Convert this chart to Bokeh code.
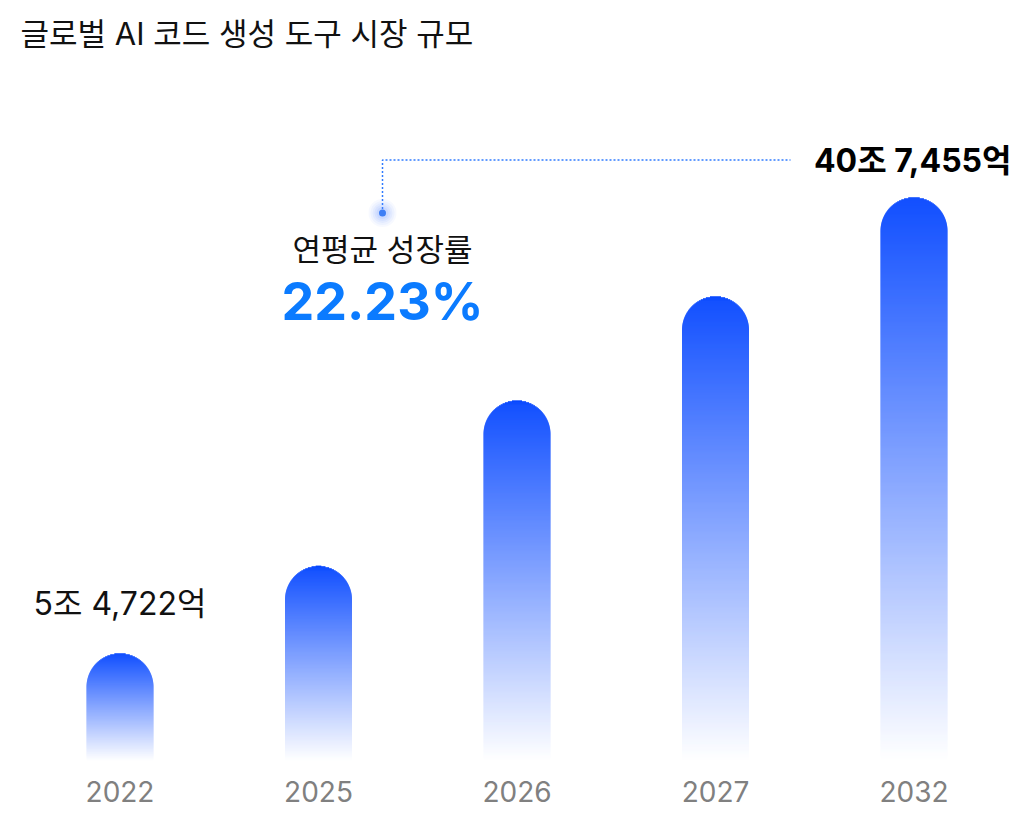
import math
from bokeh.plotting import figure
from bokeh.models import Range1d, ColumnDataSource, Label
from bokeh.core.properties import value
from bokeh.embed import file_html
from bokeh.resources import INLINE

# ---------------- data ----------------
title = "글로벌 AI 코드 생성 도구 시장 규모"
years = ["2022", "2025", "2026", "2027", "2032"]
# relative bar height (2032 = 100); chart is illustrative
bar_index = [19.0, 34.5, 63.9, 82.4, 100.0]
first_label = "5조 4,722억"
last_label = "40조 7,455억"
cagr_label = "연평균 성장률"
cagr_value = "22.23%"

# ---------------- layout ----------------
W, H = 1018, 810
BASE = 760            # baseline, px from top of the figure
PXY = 5.63            # px per index unit
X_PX = 198.5          # px per category step
X0 = -119.5 / X_PX    # left edge of x range (category index units)
BAR_W = 67
R = BAR_W / 2
FONT = "Inter, 'Noto Sans CJK KR', sans-serif"
TOP = (2, 68, 255)


def gy(py):
    """figure pixel y (from top) -> data y"""
    return (BASE - py) / PXY


def gx(px):
    return X0 + px / X_PX


p = figure(width=W, height=H, output_backend="svg", toolbar_location=None,
           x_range=Range1d(X0, X0 + W / X_PX),
           y_range=Range1d(-(H - BASE) / PXY, BASE / PXY),
           x_axis_location=None, y_axis_location=None,
           min_border=0, outline_line_color=None,
           background_fill_color="white", border_fill_color="white")
p.grid.visible = False

# gradient bars with rounded tops, built from thin slices
xs, ys, ws, cs = [], [], [], []
for i, v in enumerate(bar_index):
    hp = v * PXY
    n = int(math.ceil(hp))
    for k in range(n):
        t0, t1 = k, min(k + 1, hp)
        t = (t0 + t1) / 2
        f = t / hp
        if t > hp - R:
            dy = t - (hp - R)
            w = 2 * math.sqrt(max(R * R - dy * dy, 0.0))
        else:
            w = BAR_W
        col = "#%02x%02x%02x" % tuple(int(round(255 + (c - 255) * f)) for c in TOP)
        xs.append(i)
        ys.append(t / PXY)
        ws.append(w)
        cs.append(col)
p.rect(x="x", y="y", width="w", height=1.6, width_units="screen", height_units="screen",
       fill_color="c", line_color=None, source=ColumnDataSource(dict(x=xs, y=ys, w=ws, c=cs)))

# year labels
p.text(x=list(range(len(years))), y=[gy(791)] * len(years), text=years,
       text_align="center", text_baseline="middle", text_color="#808080",
       text_font=value(FONT), text_font_size="28px")

# value labels
p.text(x=[0], y=[bar_index[0] + 50 / PXY], text=[first_label],
       text_align="center", text_baseline="middle", text_color="#111111",
       text_font=value(FONT), text_font_size="32px")
last_y = bar_index[-1] + 37 / PXY
p.text(x=[gx(1011)], y=[last_y], text=[last_label],
       text_align="right", text_baseline="middle", text_color="#000000",
       text_font=value(FONT), text_font_size="32px", text_font_style="bold")

# connector
xc = gx(382)
xe = gx(790)
yd = gy(212.5)
p.line(x=[xc, xc, xe], y=[yd, gy(159.5), gy(159.5)], line_color="#2f7bff", line_width=1.5,
       line_dash="2 2")
for s, a in [(28, 0.05), (24, 0.06), (20, 0.07), (16, 0.08), (12, 0.1)]:
    p.scatter(x=[xc], y=[yd], size=s, fill_color="#5a8dff", fill_alpha=a, line_color=None)
p.scatter(x=[xc], y=[yd], size=7, fill_color="#3d7ef5", line_color=None)

# CAGR
p.text(x=[xc], y=[gy(248.5)], text=[cagr_label], text_align="center", text_baseline="middle",
       text_color="#111111", text_font=value(FONT), text_font_size="31px")
p.text(x=[xc], y=[gy(301)], text=[cagr_value], text_align="center", text_baseline="middle",
       text_color="#0b7bff", text_font=value(FONT), text_font_size="52px",
       text_font_style="bold")

# title
p.add_layout(Label(x=20, y=H - 32.5, x_units="screen", y_units="screen", text=title,
                   text_baseline="middle", text_color="#111111", text_font=FONT,
                   text_font_size="31px"))

open("out.html", "w").write(file_html(p, INLINE))
